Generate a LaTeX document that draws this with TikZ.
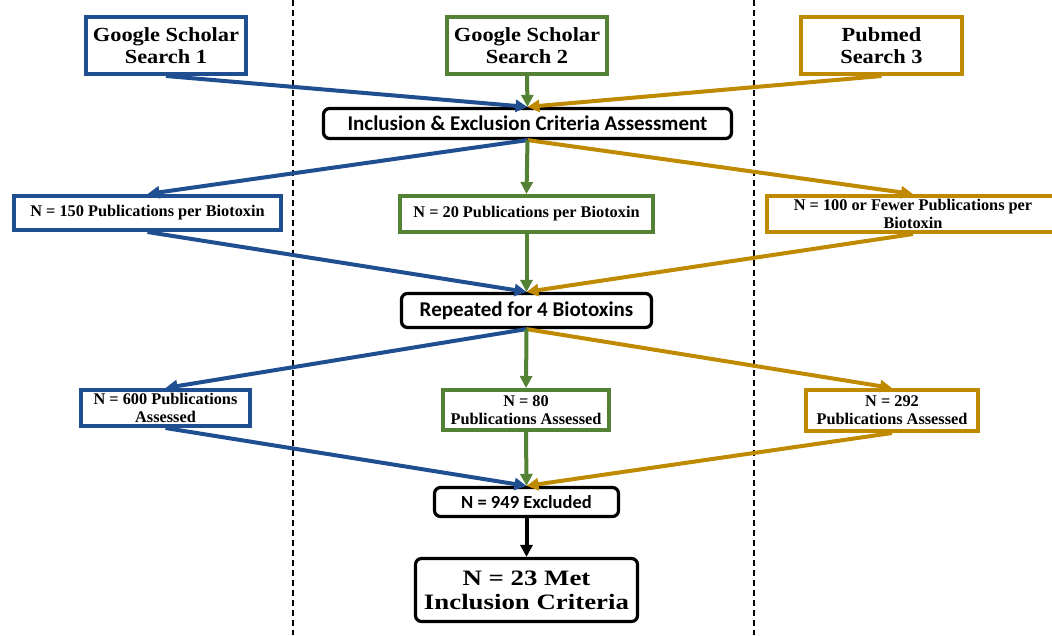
\documentclass[tikz,border=0pt]{standalone}
\usepackage{fontspec}
\setmainfont{Liberation Serif}
\newfontfamily\calib{Carlito}
\newfontfamily\georg[FakeStretch=1.12]{Liberation Serif}
\newfontfamily\georgw[FakeStretch=1.22]{Liberation Serif}
\usetikzlibrary{arrows.meta}
\definecolor{cblue}{HTML}{1F4E91}
\definecolor{cgreen}{HTML}{548235}
\definecolor{cgold}{HTML}{C08A00}
\tikzset{
  sqbox/.style={draw, line width=4pt, fill=white, align=center, inner sep=0pt, font=\bfseries\fontsize{16.3}{18}\selectfont},
  topbox/.style={sqbox, font=\georg\bfseries\fontsize{20}{22}\selectfont},
  rbox/.style={draw=black, line width=3.2pt, rounded corners=6pt, fill=white, align=center, inner sep=0pt, font=\calib\bfseries\fontsize{21}{23}\selectfont},
  arr/.style={line width=4pt, -{Triangle[length=12pt,width=12pt]}},
  sep/.style={line width=1.3pt, dash pattern=on 6pt off 4pt}
}
\begin{document}
\begin{tikzpicture}[x=1pt,y=-1pt]
\useasboundingbox (0,0) rectangle (1052,635);
\clip (0,0) rectangle (1052,635);
\draw[sep] (293,0) -- (293,635);
\draw[sep] (754,0) -- (754,635);
% nodes
\node[topbox, draw=cblue, minimum width=160, minimum height=57] (g1) at (166,45.5) {Google Scholar\\Search 1};
\node[topbox, draw=cgreen, minimum width=160, minimum height=57] (g2) at (527,45.5) {Google Scholar\\Search 2};
\node[topbox, draw=cgold, minimum width=161, minimum height=57] (p3) at (881.5,45.5) {Pubmed\\Search 3};
\node[rbox, minimum width=408, minimum height=30] (incl) at (527.5,123.5) {Inclusion \& Exclusion Criteria Assessment};
\node[sqbox, draw=cblue, minimum width=267, minimum height=34] (n150) at (147.5,213) {N = 150 Publications per Biotoxin};
\node[sqbox, draw=cgreen, minimum width=253, minimum height=36] (n20) at (526.5,214) {N = 20 Publications per Biotoxin};
\node[sqbox, draw=cgold, minimum width=292, minimum height=36] (n100) at (913,214) {N = 100 or Fewer Publications per\\Biotoxin};
\node[rbox, minimum width=250, minimum height=34] (rep) at (526.5,310.5) {Repeated for 4 Biotoxins};
\node[sqbox, draw=cblue, minimum width=169, minimum height=36] (n600) at (165.5,408) {N = 600 Publications\\Assessed};
\node[sqbox, draw=cgreen, minimum width=166, minimum height=40] (n80) at (526,410) {N = 80\\Publications Assessed};
\node[sqbox, draw=cgold, minimum width=172, minimum height=41] (n292) at (892,410.5) {N = 292\\Publications Assessed};
\node[rbox, minimum width=184, minimum height=29, font=\calib\bfseries\fontsize{18.5}{20}\selectfont] (excl) at (526.5,502) {N = 949 Excluded};
\node[rbox, minimum width=222, minimum height=63, font=\georgw\bfseries\fontsize{22}{24}\selectfont] (n23) at (526.5,590) {N = 23 Met\\Inclusion Criteria};
% connectors
\draw[arr, cblue] (g1.south) -- (incl.north);
\draw[arr, cgold] (p3.south) -- (incl.north);
\draw[arr, cgreen] (g2.south) -- (incl.north);
\draw[arr, cblue] (incl.south) -- (n150.north);
\draw[arr, cgold] (incl.south) -- (n100.north);
\draw[arr, cgreen] (incl.south) -- (n20.north);
\draw[arr, cblue] (n150.south) -- (rep.north);
\draw[arr, cgold] (n100.south) -- (rep.north);
\draw[arr, cgreen] (n20.south) -- (rep.north);
\draw[arr, cblue] (rep.south) -- (n600.north);
\draw[arr, cgold] (rep.south) -- (n292.north);
\draw[arr, cgreen] (rep.south) -- (n80.north);
\draw[arr, cblue] (n600.south) -- (excl.north);
\draw[arr, cgold] (n292.south) -- (excl.north);
\draw[arr, cgreen] (n80.south) -- (excl.north);
\draw[arr, black] (excl.south) -- (n23.north);
\end{tikzpicture}
\end{document}
